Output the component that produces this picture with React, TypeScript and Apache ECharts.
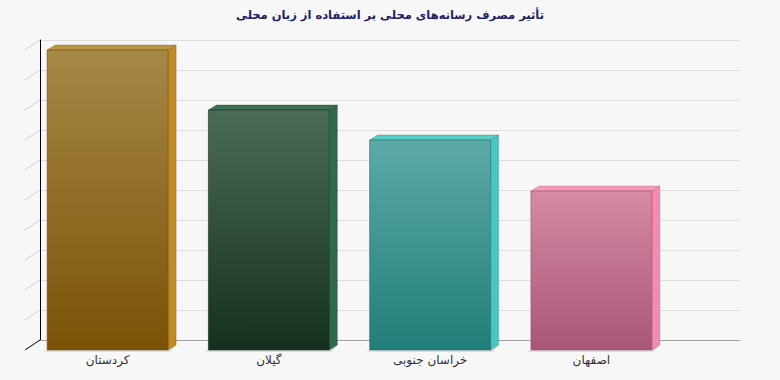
import React, { useEffect, useRef } from "react";
import * as echarts from "echarts";

const title = "تأثیر مصرف رسانه‌های محلی بر استفاده از زبان محلی";
const categories = ["کردستان", "گیلان", "خراسان جنوبی", "اصفهان"];
const values = [100, 80, 70, 53];
const wallTicks = [0, 1, 2, 3, 4, 5, 6, 7, 8, 9, 10];

const frontTop = ["#a68845", "#4b6b59", "#5caaa7", "#d58ba5"];
const frontBottom = ["#7a5208", "#15301e", "#227e7a", "#a85677"];
const sideColors = ["#c08c22", "#2f6a4a", "#46c7c0", "#f58ab3"];
const topColors = ["#bc9540", "#3e6f55", "#55ccc5", "#f49bbb"];
const edgeColors = ["#6e4c10", "#16301f", "#1e6e6a", "#9a4f6c"];

export default function App() {
  const ref = useRef<HTMLDivElement>(null);
  useEffect(() => {
    document.body.style.margin = "0";
    if (!ref.current) return;
    const chart = echarts.init(ref.current, undefined, { renderer: "svg" });
    const dx = 8;
    const dy = -5;
    chart.setOption({
      animation: false,
      backgroundColor: "#f7f7f7",
      title: {
        text: title,
        left: "center",
        top: 4,
        textStyle: { fontFamily: "DejaVu Sans", fontSize: 11.5, fontWeight: "bold", color: "#1d1d6b" },
      },
      grid: [
        { left: 40, top: 40, width: 700, height: 300 },
        { left: 27, top: 50, width: 645, height: 300 },
      ],
      xAxis: [
        {
          gridIndex: 0,
          type: "value",
          min: 0,
          max: 1,
          axisLine: { show: true, lineStyle: { color: "#a0a0a0", width: 1 } },
          axisTick: { show: false },
          axisLabel: { show: false },
          splitLine: { show: false },
        },
        {
          gridIndex: 1,
          type: "category",
          data: categories,
          axisLine: { show: false },
          axisTick: { show: false },
          axisLabel: { fontFamily: "DejaVu Sans", fontSize: 12, color: "#333", margin: 4 },
          splitLine: { show: false },
        },
      ],
      yAxis: [
        {
          gridIndex: 0,
          type: "value",
          min: 0,
          max: 10,
          interval: 1,
          axisLine: { show: true, lineStyle: { color: "#000", width: 1 } },
          axisTick: { show: false },
          axisLabel: { show: false },
          splitLine: { show: true, lineStyle: { color: "#dddddd", width: 1 } },
        },
        {
          gridIndex: 1,
          type: "value",
          min: 0,
          max: 100,
          show: false,
          splitLine: { show: false },
        },
      ],
      series: [
        {
          type: "custom",
          xAxisIndex: 0,
          yAxisIndex: 0,
          data: wallTicks.map((t) => [0, t]),
          encode: { x: 0, y: 1 },
          silent: true,
          z: 1,
          renderItem: (params: any, api: any) => {
            const v = api.value(1);
            const p = api.coord([0, v]);
            return {
              type: "line",
              shape: { x1: p[0] - 15, y1: p[1] + 10, x2: p[0], y2: p[1] },
              style: { stroke: v === 0 ? "#000" : "#cfcfcf", lineWidth: 1 },
            };
          },
        },
        {
          type: "custom",
          xAxisIndex: 1,
          yAxisIndex: 1,
          data: values.map((v, i) => [i, v]),
          encode: { x: 0, y: 1 },
          z: 5,
          renderItem: (params: any, api: any) => {
            const idx = api.value(0);
            const val = api.value(1);
            const top = api.coord([idx, val]);
            const base = api.coord([idx, 0]);
            const bw = api.size([1, 0])[0] * 0.75;
            const x0 = top[0] - bw / 2;
            const x1 = top[0] + bw / 2;
            const yT = top[1];
            const yB = base[1];
            return {
              type: "group",
              children: [
                {
                  type: "polygon",
                  shape: { points: [[x0 - 4, yB + 2], [x0 + dx, yB + dy], [x1 + dx, yB + dy], [x1 + 2, yB + 2]] },
                  style: { fill: "#dedede" },
                },
                {
                  type: "polygon",
                  shape: { points: [[x1, yT], [x1 + dx, yT + dy], [x1 + dx, yB + dy], [x1, yB]] },
                  style: { fill: sideColors[idx], stroke: edgeColors[idx], lineWidth: 0.3 },
                },
                {
                  type: "polygon",
                  shape: { points: [[x0, yT], [x0 + dx, yT + dy], [x1 + dx, yT + dy], [x1, yT]] },
                  style: { fill: topColors[idx], stroke: edgeColors[idx], lineWidth: 0.3 },
                },
                {
                  type: "rect",
                  shape: { x: x0, y: yT, width: bw, height: yB - yT },
                  style: {
                    fill: new echarts.graphic.LinearGradient(0, 0, 0, 1, [
                      { offset: 0, color: frontTop[idx] },
                      { offset: 1, color: frontBottom[idx] },
                    ]),
                    stroke: edgeColors[idx],
                    lineWidth: 0.6,
                  },
                },
              ],
            };
          },
        },
      ],
    });
    return () => chart.dispose();
  }, []);
  return <div ref={ref} style={{ width: 780, height: 380 }} />;
}
